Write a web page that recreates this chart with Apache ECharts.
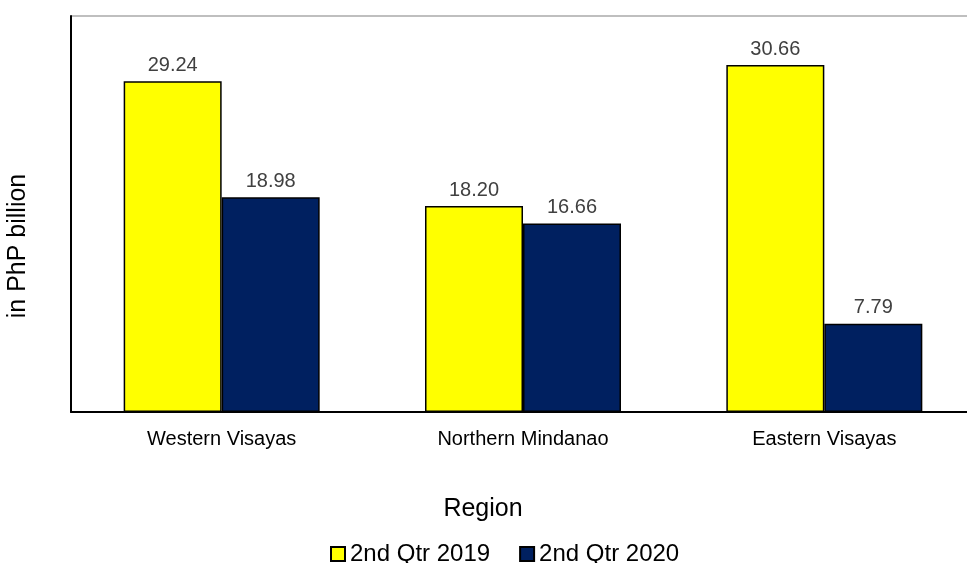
<!DOCTYPE html>
<html>
<head>
<meta charset="utf-8">
<script src="https://cdn.jsdelivr.net/npm/echarts@6/dist/echarts.min.js"></script>
<style>html,body{margin:0;padding:0;background:#fff}#c{width:967px;height:563px}</style>
</head>
<body>
<div id="c"></div>
<script>
var categories = ['Western Visayas', 'Northern Mindanao', 'Eastern Visayas'];
var seriesNames = ['2nd Qtr 2019', '2nd Qtr 2020'];
var values2019 = [29.24, 18.20, 30.66];
var values2020 = [18.98, 16.66, 7.79];
var yTitle = 'in PhP billion';
var xTitle = 'Region';

var FONT = 'Arial, "Liberation Sans", sans-serif';
var chart = echarts.init(document.getElementById('c'), null, {renderer: 'canvas'});
function barSeries(name, data, color) {
  return {
    name: name, type: 'bar', data: data, barWidth: 98, barGap: '0%',
    itemStyle: {color: color, borderColor: '#000', borderWidth: 1.5},
    label: {show: true, position: 'top', distance: 6, color: '#404040', fontSize: 20, fontFamily: FONT,
      formatter: function (p) { return p.value.toFixed(2); }}
  };
}
chart.setOption({
  animation: false,
  textStyle: {fontFamily: FONT},
  grid: {left: 71, top: 16, right: -8, bottom: 151, containLabel: false, outerBoundsMode: 'none'},
  legend: {
    data: seriesNames, left: 325, top: 537, itemWidth: 14, itemHeight: 14, itemGap: 29, icon: 'rect',
    textStyle: {fontSize: 24, color: '#000', fontFamily: FONT, lineHeight: 24}
  },
  xAxis: {
    type: 'category', data: categories,
    name: xTitle, nameLocation: 'middle', nameGap: 85,
    nameTextStyle: {fontSize: 25, color: '#000', fontFamily: FONT, padding: [0, 80, 0, 0]},
    axisLine: {show: true, lineStyle: {color: '#000', width: 2}},
    axisTick: {show: false},
    axisLabel: {fontSize: 20, color: '#000', margin: 17, fontFamily: FONT}
  },
  yAxis: {
    type: 'value', min: 0, max: 35, interval: 35,
    name: yTitle, nameLocation: 'middle', nameGap: 40, nameRotate: 90,
    nameTextStyle: {fontSize: 25, color: '#000', fontFamily: FONT, padding: [0, 64, 0, 0]},
    axisLine: {show: true, lineStyle: {color: '#000', width: 2}},
    axisTick: {show: false},
    axisLabel: {show: false},
    splitLine: {show: true, lineStyle: {color: '#bfbfbf', width: 2}}
  },
  series: [
    barSeries(seriesNames[0], values2019, '#ffff00'),
    barSeries(seriesNames[1], values2020, '#002060')
  ]
});
</script>
</body>
</html>
